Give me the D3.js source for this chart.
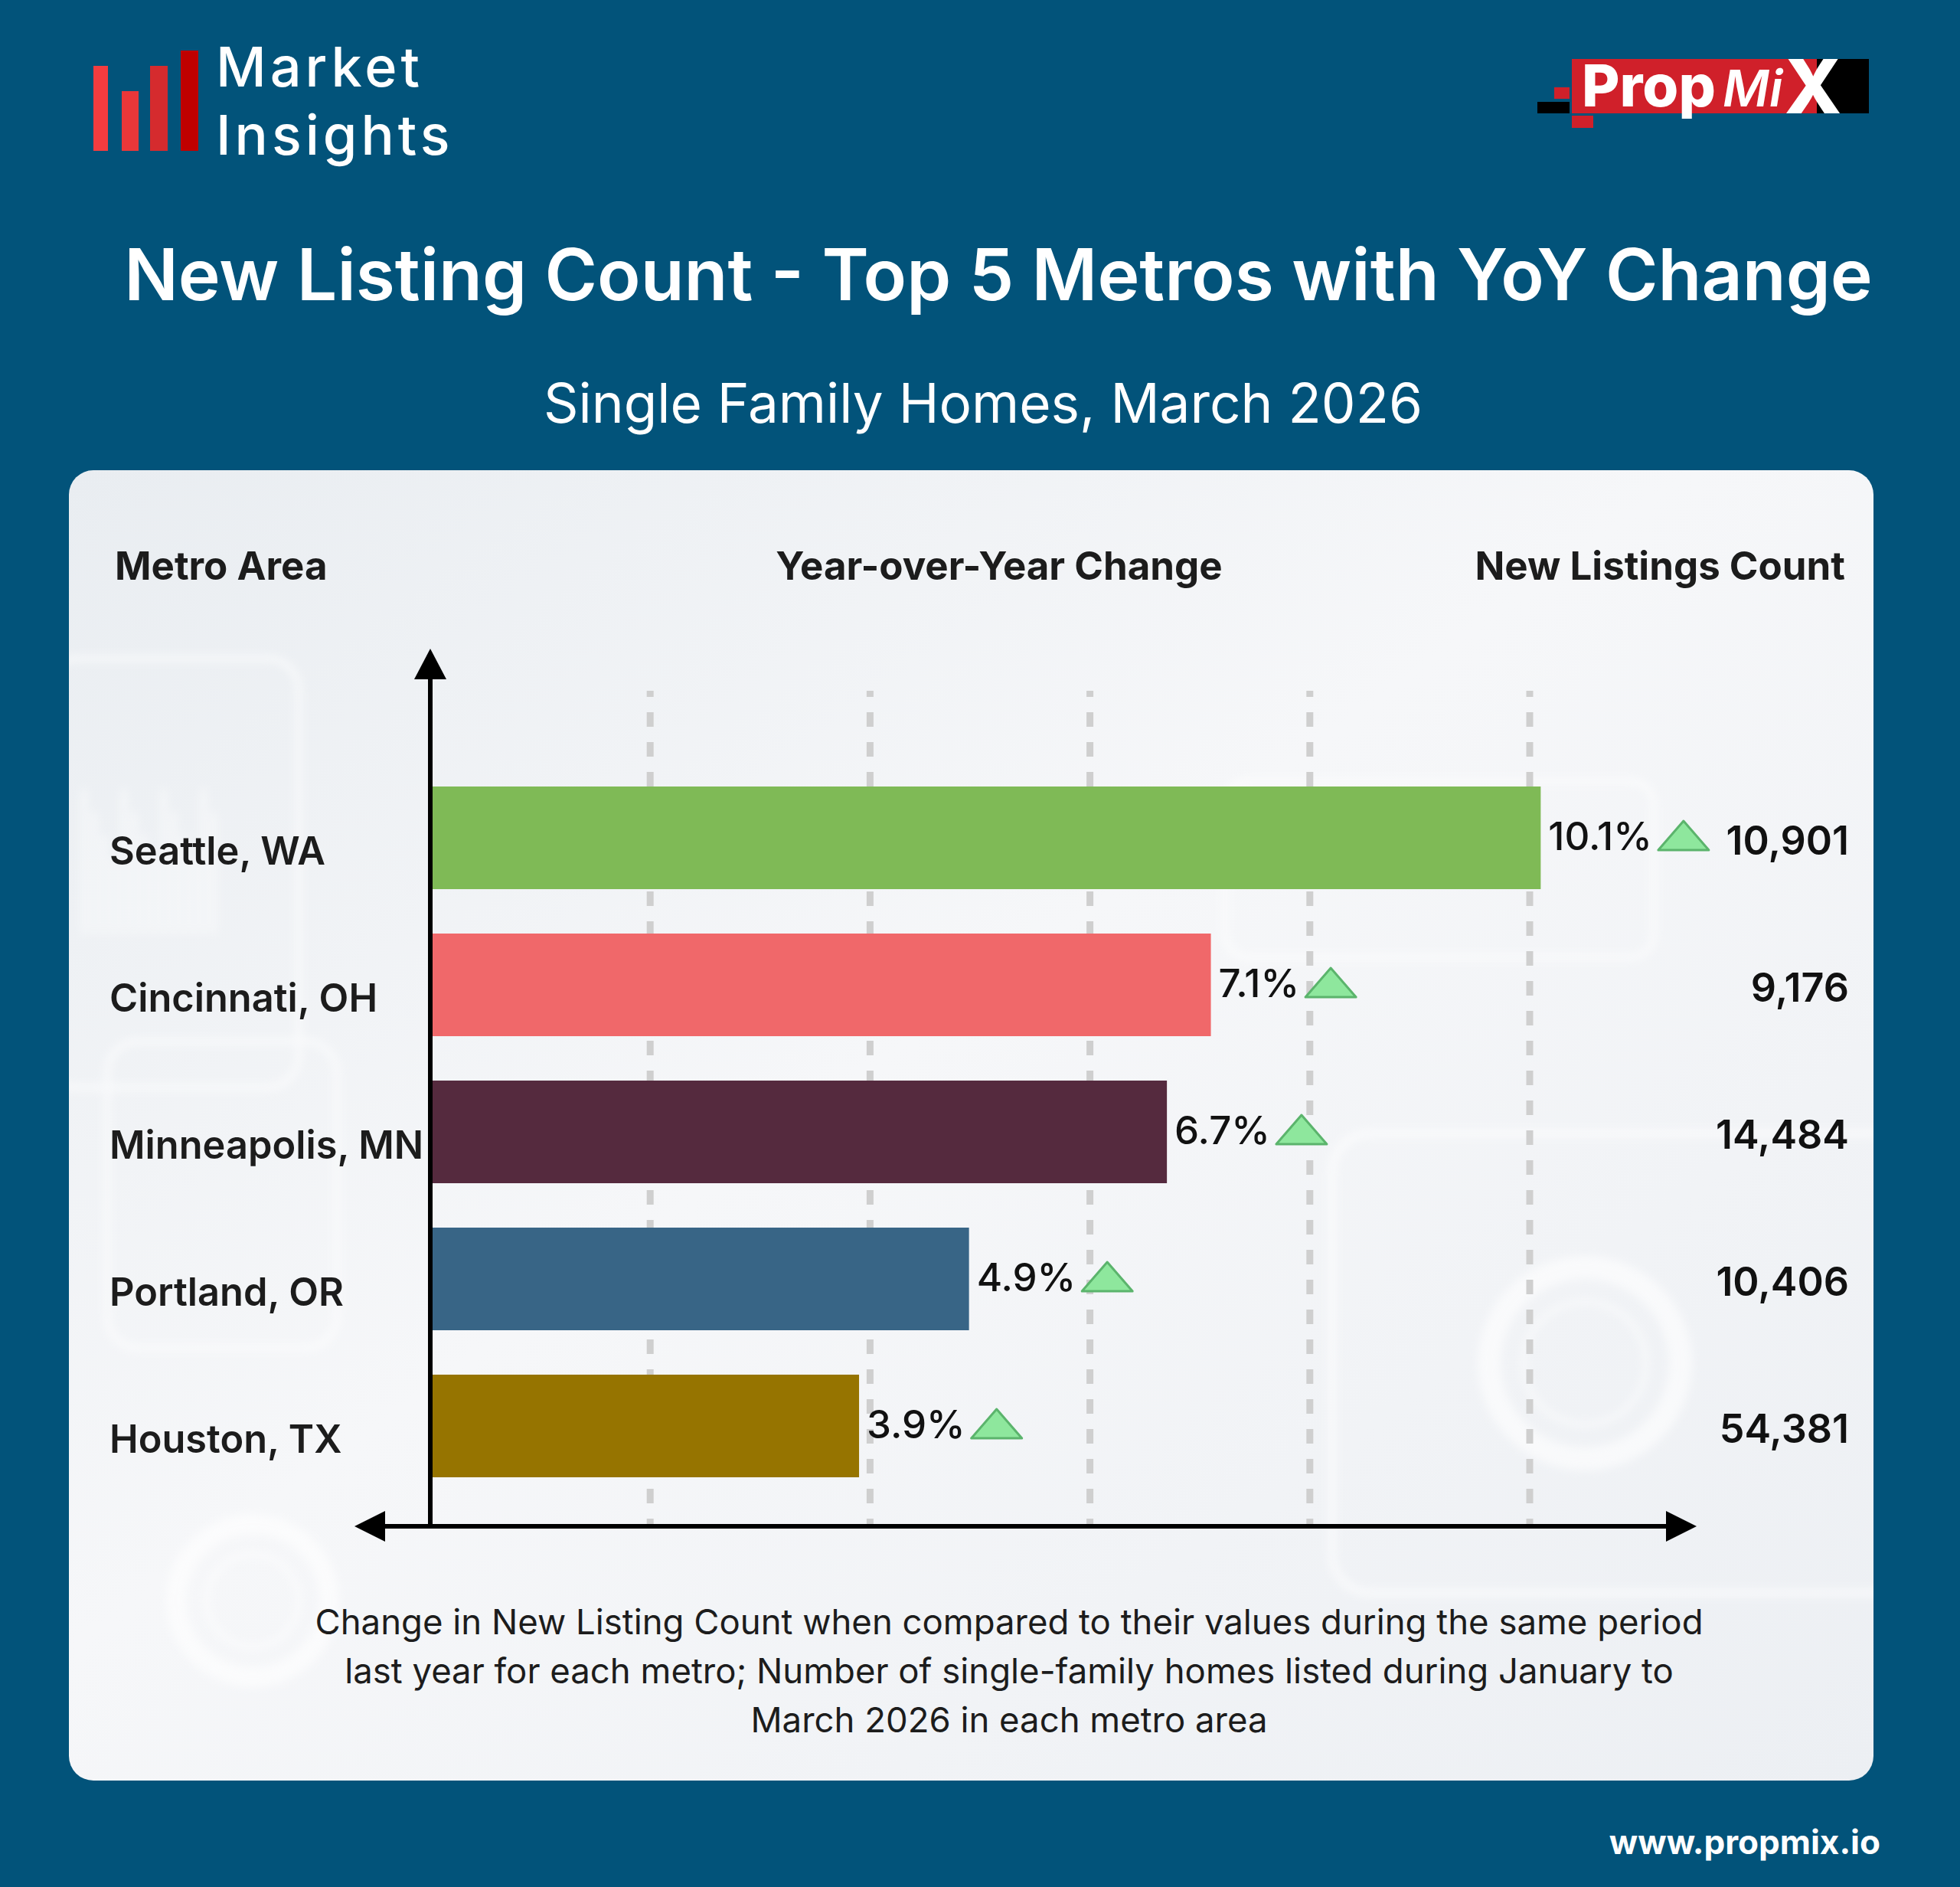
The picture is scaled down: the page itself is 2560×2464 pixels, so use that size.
<!DOCTYPE html>
<html>
<head>
<meta charset="utf-8">
<title>New Listing Count - Top 5 Metros with YoY Change</title>
<script src="https://cdn.jsdelivr.net/npm/d3@7"></script>
<style>
  html, body { margin: 0; padding: 0; background: #02537a; }
  svg { display: block; }
  text { font-family: Inter, "Noto Sans", sans-serif; }
</style>
</head>
<body>
<svg id="chart" width="2560" height="2464"></svg>
<script>
// Values (single family homes, March 2026)

const metros = ["Seattle, WA", "Cincinnati, OH", "Minneapolis, MN", "Portland, OR", "Houston, TX"];
const yoyChange = [10.1, 7.1, 6.7, 4.9, 3.9];
const listingCounts = [10901, 9176, 14484, 10406, 54381];
const gridTicks = [2, 4, 6, 8, 10];
const barPalette = ["#7fba56", "#f0686a", "#552a3e", "#386586", "#967400"];
const captionLines = [
  "Change in New Listing Count when compared to their values during the same period",
  "last year for each metro; Number of single-family homes listed during January to",
  "March 2026 in each metro area"
];

const W = 2560, H = 2464;
const svg = d3.select("#chart");
const defs = svg.append("defs");

svg.append("rect").attr("width", W).attr("height", H).attr("fill", "#02537a");

// ---------- logos ----------

const logo = svg.append("g");
[[122, 86, 19, "#f43c3f"], [159, 119, 22, "#ea3739"], [196, 86, 23, "#d52b2e"], [236, 66, 23, "#c00000"]]
  .forEach(([x, top, w, c]) => {
    logo.append("rect").attr("x", x).attr("y", top).attr("width", w).attr("height", 197 - top).attr("fill", c);
  });

// two lines of the wordmark, sized so their boxes just touch
logo.append("text").attr("x", 282).attr("y", 113).attr("fill", "#fff")
  .attr("font-size", 72).attr("font-weight", 500).attr("letter-spacing", 5).text("Market");
logo.append("text").attr("x", 282).attr("y", 202).attr("fill", "#fff")
  .attr("font-size", 72).attr("font-weight", 500).attr("letter-spacing", 5).text("Insights");

const pm = svg.append("g");
pm.append("rect").attr("x", 2030).attr("y", 114).attr("width", 20).attr("height", 15).attr("fill", "#d0202a");
pm.append("rect").attr("x", 2008).attr("y", 133).attr("width", 42).attr("height", 15).attr("fill", "#000");
pm.append("rect").attr("x", 2053).attr("y", 151).attr("width", 28).attr("height", 16).attr("fill", "#d0202a");
pm.append("rect").attr("x", 2053).attr("y", 77).attr("width", 320).attr("height", 71).attr("fill", "#d0202a");
pm.append("rect").attr("x", 2373).attr("y", 77).attr("width", 68).attr("height", 71).attr("fill", "#000");
pm.append("text").attr("x", 2066).attr("y", 139).attr("fill", "#fff")
  .attr("font-size", 76).attr("font-weight", 800).text("Prop");
pm.append("text").attr("x", 2250).attr("y", 139).attr("fill", "#fff")
  .attr("font-size", 66).attr("font-weight", 600).attr("font-style", "italic").text("Mi");
pm.append("text").attr("x", 2368).attr("y", 148).attr("fill", "#fff").attr("text-anchor", "middle")
  .attr("font-size", 98).attr("font-weight", 800).text("X");

// ---------- titles ----------

svg.append("text").attr("x", 1304).attr("y", 392).attr("text-anchor", "middle").attr("fill", "#fff")
  .attr("font-size", 93).attr("font-weight", 600).text("New Listing Count - Top 5 Metros with YoY Change");
svg.append("text").attr("x", 1284).attr("y", 552).attr("text-anchor", "middle").attr("fill", "#fff")
  .attr("font-size", 71).attr("font-weight", 400).text("Single Family Homes, March 2026");

svg.append("text").attr("x", 2456).attr("y", 2421).attr("text-anchor", "end").attr("fill", "#fff")
  .attr("font-size", 44).attr("font-weight", 700).text("www.propmix.io");

// ---------- card ----------

const card = {x: 90, y: 614, w: 2357, h: 1711, r: 32};

const grad = defs.append("linearGradient").attr("id", "cardBg")
  .attr("x1", 0).attr("y1", 0).attr("x2", 1).attr("y2", 1);
grad.append("stop").attr("offset", "0%").attr("stop-color", "#e9edf1");
grad.append("stop").attr("offset", "45%").attr("stop-color", "#f6f7f9");
grad.append("stop").attr("offset", "100%").attr("stop-color", "#eceff3");

defs.append("clipPath").attr("id", "cardClip").append("rect")
  .attr("x", card.x).attr("y", card.y).attr("width", card.w).attr("height", card.h).attr("rx", card.r);
defs.append("filter").attr("id", "soft").append("feGaussianBlur").attr("stdDeviation", 6);

svg.append("rect").attr("x", card.x).attr("y", card.y).attr("width", card.w).attr("height", card.h)
  .attr("rx", card.r).attr("fill", "url(#cardBg)");

// faint background imagery on the card
const deco = svg.append("g").attr("clip-path", "url(#cardClip)")
  .attr("filter", "url(#soft)").attr("fill", "none").attr("stroke", "#ffffff").attr("opacity", 0.6);
deco.append("rect").attr("x", 60).attr("y", 860).attr("width", 330).attr("height", 560).attr("rx", 40).attr("stroke-width", 8);
deco.append("rect").attr("x", 140).attr("y", 1360).attr("width", 300).attr("height", 400).attr("rx", 40).attr("stroke-width", 8);
deco.append("rect").attr("x", 1740).attr("y", 1480).attr("width", 760).attr("height", 600).attr("rx", 50).attr("stroke-width", 10);
deco.append("rect").attr("x", 1600).attr("y", 1020).attr("width", 560).attr("height", 230).attr("rx", 30).attr("stroke-width", 8);
deco.append("circle").attr("cx", 330).attr("cy", 2090).attr("r", 100).attr("stroke-width", 26);
deco.append("circle").attr("cx", 330).attr("cy", 2090).attr("r", 60).attr("stroke-width", 6);
deco.append("circle").attr("cx", 2070).attr("cy", 1780).attr("r", 125).attr("stroke-width", 30);
deco.append("circle").attr("cx", 2070).attr("cy", 1780).attr("r", 80).attr("stroke-width", 6);
d3.range(14).forEach(i => {
  deco.append("line").attr("x1", 110 + i * 13).attr("x2", 110 + i * 13)
    .attr("y1", 1220).attr("y2", 1030 + (i % 4) * 30).attr("stroke-width", 6);
});

// ---------- scales ----------

const x = d3.scaleLinear().domain([0, 10]).range([562, 1998]);
const y = d3.scaleBand().domain(metros).range([1027, 1929]).paddingInner(0.302);
const color = d3.scaleOrdinal().domain(metros).range(barPalette);
const fmt = d3.format(",");

const rows = metros.map((m, i) => ({metro: m, change: yoyChange[i], count: listingCounts[i]}));
const chart = svg.append("g");

// column headers
const headerY = 757;
chart.append("text").attr("x", 150).attr("y", headerY).attr("font-size", 51).attr("font-weight", 700)
  .attr("fill", "#1c1c1c").text("Metro Area");
chart.append("text").attr("x", 1305).attr("y", headerY).attr("text-anchor", "middle").attr("font-size", 51)
  .attr("font-weight", 700).attr("fill", "#1c1c1c").text("Year-over-Year Change");
chart.append("text").attr("x", 2410).attr("y", headerY).attr("text-anchor", "end").attr("font-size", 51)
  .attr("font-weight", 700).attr("fill", "#1c1c1c").text("New Listings Count");

// dashed grid
chart.append("g").selectAll("line").data(gridTicks).join("line")
  .attr("x1", d => x(d)).attr("x2", d => x(d))
  .attr("y1", 902).attr("y2", 1990)
  .attr("stroke", "#cfcfcf").attr("stroke-width", 9)
  .attr("stroke-dasharray", "19,20").attr("stroke-dashoffset", 11);

// bars
chart.append("g").selectAll("rect").data(rows).join("rect")
  .attr("x", x(0)).attr("y", d => y(d.metro))
  .attr("width", d => x(d.change) - x(0)).attr("height", y.bandwidth())
  .attr("fill", d => color(d.metro));

// axes with arrow heads
const ax = chart.append("g").attr("fill", "#000").attr("stroke", "#000");
const axisY = 1993;
ax.append("line").attr("x1", x(0)).attr("x2", x(0)).attr("y1", axisY).attr("y2", 880).attr("stroke-width", 6);
ax.append("path").attr("stroke", "none").attr("d", `M${x(0)},847 L${x(0) + 21},887 L${x(0) - 21},887 Z`);
ax.append("line").attr("x1", 495).attr("x2", 2185).attr("y1", axisY).attr("y2", axisY).attr("stroke-width", 6);
ax.append("path").attr("stroke", "none").attr("d", `M463,${axisY} L503,${axisY - 20} L503,${axisY + 20} Z`);
ax.append("path").attr("stroke", "none").attr("d", `M2216,${axisY} L2176,${axisY - 20} L2176,${axisY + 20} Z`);

// metro labels
chart.append("g").selectAll("text").data(rows).join("text")
  .attr("x", 143).attr("y", d => y(d.metro) + y.bandwidth() / 2 + 35)
  .attr("font-size", 50.5).attr("font-weight", 600).attr("fill", "#1c1c1c")
  .text(d => d.metro);

// change labels with up triangles
const pct = chart.append("g").selectAll("g").data(rows).join("g");
pct.append("text")
  .attr("x", d => x(d.change) + 10).attr("y", d => y(d.metro) + y.bandwidth() / 2 + 16)
  .attr("font-size", 51).attr("font-weight", 500).attr("fill", "#111")
  .text(d => d.change.toFixed(1) + "%");
pct.each(function (d) {
  const g = d3.select(this);
  const w = g.select("text").node().getComputedTextLength();
  const left = x(d.change) + 10 + w + 8;
  const base = y(d.metro) + y.bandwidth() / 2 + 16;
  g.append("path")
    .attr("d", `M${left},${base} L${left + 66},${base} L${left + 33},${base - 38} Z`)
    .attr("fill", "#8ee79d").attr("stroke", "#5bb46c").attr("stroke-width", 3).attr("stroke-linejoin", "round");
});

// listing counts
chart.append("g").selectAll("text").data(rows).join("text")
  .attr("x", 2415).attr("y", d => y(d.metro) + y.bandwidth() / 2 + 22)
  .attr("text-anchor", "end").attr("font-size", 52).attr("font-weight", 600).attr("fill", "#111")
  .text(d => fmt(d.count));

// caption
chart.append("g").selectAll("text").data(captionLines).join("text")
  .attr("x", 1318).attr("y", (d, i) => 2134 + i * 64)
  .attr("text-anchor", "middle").attr("font-size", 45.5).attr("font-weight", 400).attr("fill", "#1c1c1c")
  .text(d => d);
</script>
</body>
</html>
